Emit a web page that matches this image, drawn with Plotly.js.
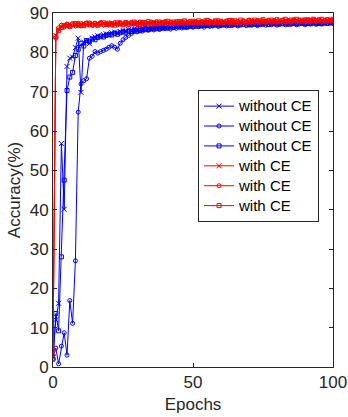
<!DOCTYPE html>
<html>
<head>
<meta charset="utf-8">
<script src="https://cdn.plot.ly/plotly-3.0.1.min.js"></script>
<style>html,body{margin:0;padding:0;background:#fff;}#chart{width:348px;height:417px;}</style>
</head>
<body>
<div id="chart"></div>
<script>
// Epochs 0..100
const epochs = Array.from({length: 101}, (_, i) => i);

const seriesNames = ["without CE", "without CE", "without CE", "with CE", "with CE", "with CE"];

const woCross = [2.5,12.0,16.2,56.8,40.1,76.4,78.5,78.8,81.2,83.6,69.8,82.6,83.1,82.2,83.6,83.9,84.2,84.0,84.5,84.7,
84.6,85.0,85.2,84.9,85.3,85.6,85.4,85.8,85.7,86.0,85.9,86.1,86.0,86.3,86.2,86.4,86.1,86.5,86.4,86.6,
86.3,86.7,86.5,86.8,86.6,86.9,86.7,86.8,87.0,86.7,86.9,87.1,86.8,87.0,87.2,86.9,87.1,87.3,87.0,87.2,
87.1,87.3,87.0,87.2,87.4,87.1,87.3,87.2,87.4,87.1,87.3,87.5,87.2,87.4,87.3,87.5,87.2,87.4,87.6,87.3,
87.5,87.4,87.6,87.3,87.5,87.7,87.4,87.6,87.5,87.3,87.6,87.4,87.7,87.5,87.6,87.4,87.7,87.5,87.6,87.4,87.6];

const woCircle = [3.0,4.8,0.8,5.3,8.7,3.0,16.9,11.1,27.0,64.8,72.0,72.8,73.3,78.5,79.0,80.2,79.8,80.2,80.5,80.8,
81.3,81.7,81.3,80.8,82.3,83.2,83.8,84.3,84.8,85.3,85.2,85.5,85.4,85.7,85.6,85.9,85.7,86.0,85.8,86.1,
86.0,86.2,85.9,86.3,86.1,86.4,86.2,86.5,86.3,86.6,86.4,86.6,86.5,86.7,86.4,86.8,86.6,86.7,86.9,86.6,
86.8,87.0,86.7,86.9,86.8,87.0,86.7,86.9,87.1,86.8,87.0,86.9,87.1,86.8,87.0,87.2,86.9,87.1,87.0,87.2,
86.9,87.1,87.3,87.0,87.2,87.1,87.3,87.0,87.2,87.4,87.1,87.3,87.2,87.4,87.1,87.3,87.2,87.4,87.3,87.5,87.3];

const woSquare = [2.0,13.6,9.2,28.0,47.5,70.3,73.7,74.9,79.2,80.8,82.2,81.6,83.0,82.7,83.4,83.2,83.8,84.1,83.9,84.3,
84.5,84.4,84.8,84.6,85.0,85.2,85.1,85.4,85.3,85.6,85.7,85.5,85.8,86.0,85.8,86.1,86.0,86.2,86.1,86.3,
86.4,86.2,86.5,86.3,86.6,86.5,86.7,86.4,86.6,86.8,86.6,86.9,86.7,86.8,87.0,86.8,87.0,86.9,87.1,86.9,
87.1,87.0,87.2,86.9,87.1,87.3,87.0,87.2,87.1,87.3,87.0,87.2,87.4,87.1,87.3,87.2,87.4,87.1,87.3,87.5,
87.2,87.4,87.3,87.5,87.2,87.4,87.6,87.3,87.5,87.4,87.2,87.5,87.3,87.6,87.4,87.5,87.3,87.6,87.4,87.5,87.7];

const wCross = [3.5,84.3,85.8,86.6,86.9,86.5,87.1,86.8,87.2,86.7,87.0,87.3,86.9,87.1,87.4,86.8,87.2,87.0,87.3,86.9,
87.2,87.5,87.1,87.3,87.0,87.4,87.2,87.5,87.1,87.3,87.6,87.2,87.4,87.1,87.5,87.3,87.6,87.2,87.4,87.7,
87.3,87.5,87.2,87.6,87.4,87.7,87.3,87.5,87.8,87.4,87.6,87.3,87.7,87.5,87.8,87.4,87.6,87.9,87.5,87.7,
87.4,87.8,87.6,87.9,87.5,87.7,87.4,87.8,87.6,87.9,87.5,87.7,88.0,87.6,87.8,87.5,87.9,87.7,88.0,87.6,
87.8,88.1,87.7,87.9,87.6,88.0,87.8,88.2,87.7,87.9,88.1,87.7,88.0,87.8,88.2,87.9,88.1,87.8,88.0,88.2,87.9];

const wCircle = [2.2,83.6,86.2,86.9,86.4,87.2,86.7,87.3,86.9,87.4,86.8,87.1,87.5,87.0,86.9,87.4,87.1,87.6,87.0,87.3,
87.1,86.9,87.5,87.2,87.6,87.1,87.4,87.0,87.6,87.3,87.1,87.7,87.3,87.5,87.2,87.7,87.4,87.8,87.3,87.5,
87.8,87.4,87.7,87.3,87.8,87.5,87.9,87.4,87.6,87.9,87.5,87.8,87.4,87.7,88.0,87.6,87.9,87.5,87.8,88.1,
87.7,87.5,88.0,87.7,88.1,87.6,87.9,87.5,88.0,87.7,88.2,87.8,87.6,88.1,87.7,88.0,87.6,88.2,87.8,88.1,
87.7,87.9,88.2,87.8,88.1,87.7,88.3,87.9,88.1,87.8,88.3,88.0,87.8,88.2,87.9,88.3,87.8,88.1,88.3,87.9,88.2];

const wSquare = [4.3,84.0,85.5,86.3,86.8,86.9,86.6,87.0,87.3,86.9,87.2,86.8,87.3,87.4,87.0,87.2,86.9,87.3,87.5,87.1,
87.4,87.2,86.9,87.5,87.3,87.0,87.6,87.2,87.4,87.7,87.3,87.1,87.6,87.4,87.8,87.2,87.5,87.3,87.7,87.4,
87.6,87.9,87.5,87.7,87.3,87.8,87.6,88.0,87.4,87.7,87.9,87.6,88.0,87.6,87.5,88.1,87.7,87.6,88.0,87.6,
87.9,87.6,87.8,88.1,87.7,88.0,87.7,88.2,87.8,87.6,88.1,87.9,88.2,87.8,88.0,88.3,87.8,88.0,88.2,87.9,
88.3,87.8,88.1,88.4,87.9,88.2,88.0,88.4,88.0,88.2,87.9,88.3,88.1,88.4,88.0,88.2,88.4,88.0,88.3,88.1,88.4];

const xTicks = [0, 50, 100];
const yTicks = [0, 10, 20, 30, 40, 50, 60, 70, 80, 90];

const BLUE = "#0000ff", RED = "#ff0000";
function tr(y, name, color, symbol, size) {
  return {
    x: epochs, y: y, type: "scatter", mode: "lines+markers",
    name: '<span style="font-size:15px">' + name + '</span>',
    line: {color: color, width: 1},
    marker: {symbol: symbol, size: size, color: color, line: {color: color, width: 1}}
  };
}

const data = [
  tr(woCross, seriesNames[0], BLUE, "x-thin-open", 5),
  tr(woCircle, seriesNames[1], BLUE, "circle-open", 4),
  tr(woSquare, seriesNames[2], BLUE, "square-open", 4),
  tr(wCross, seriesNames[3], RED, "x-thin-open", 5),
  tr(wCircle, seriesNames[4], RED, "circle-open", 4),
  tr(wSquare, seriesNames[5], RED, "square-open", 4)
];

const FONT = "Liberation Sans, Arial, sans-serif";
const axisCommon = {
  showgrid: false, zeroline: false, showline: true, linecolor: "#262626", linewidth: 1,
  mirror: "ticks", ticks: "inside", ticklen: 4, tickcolor: "#262626",
  tickfont: {family: FONT, size: 17, color: "#262626"}
};

const layout = {
  width: 348, height: 417,
  margin: {l: 53, r: 15, t: 13, b: 50},
  paper_bgcolor: "#fff", plot_bgcolor: "#fff",
  showlegend: true,
  font: {family: FONT, color: "#262626"},
  xaxis: Object.assign({}, axisCommon, {
    range: [0, 100], tickvals: xTicks, ticktext: xTicks.map(String),
    title: {text: "Epochs", font: {size: 17, color: "#262626"}, standoff: 6}
  }),
  yaxis: Object.assign({}, axisCommon, {
    range: [0, 90], tickvals: yTicks, ticktext: yTicks.map(String),
    title: {text: "Accuracy(%)", font: {size: 17, color: "#262626"}, standoff: 4}
  }),
  legend: {
    x: 0.518, y: 0.782, xanchor: "left", yanchor: "top",
    bgcolor: "#fff", bordercolor: "#262626", borderwidth: 1,
    font: {size: 13, color: "#000"}, tracegroupgap: 0
  }
};

Plotly.newPlot("chart", data, layout, {displayModeBar: false, staticPlot: true});
</script>
</body>
</html>
